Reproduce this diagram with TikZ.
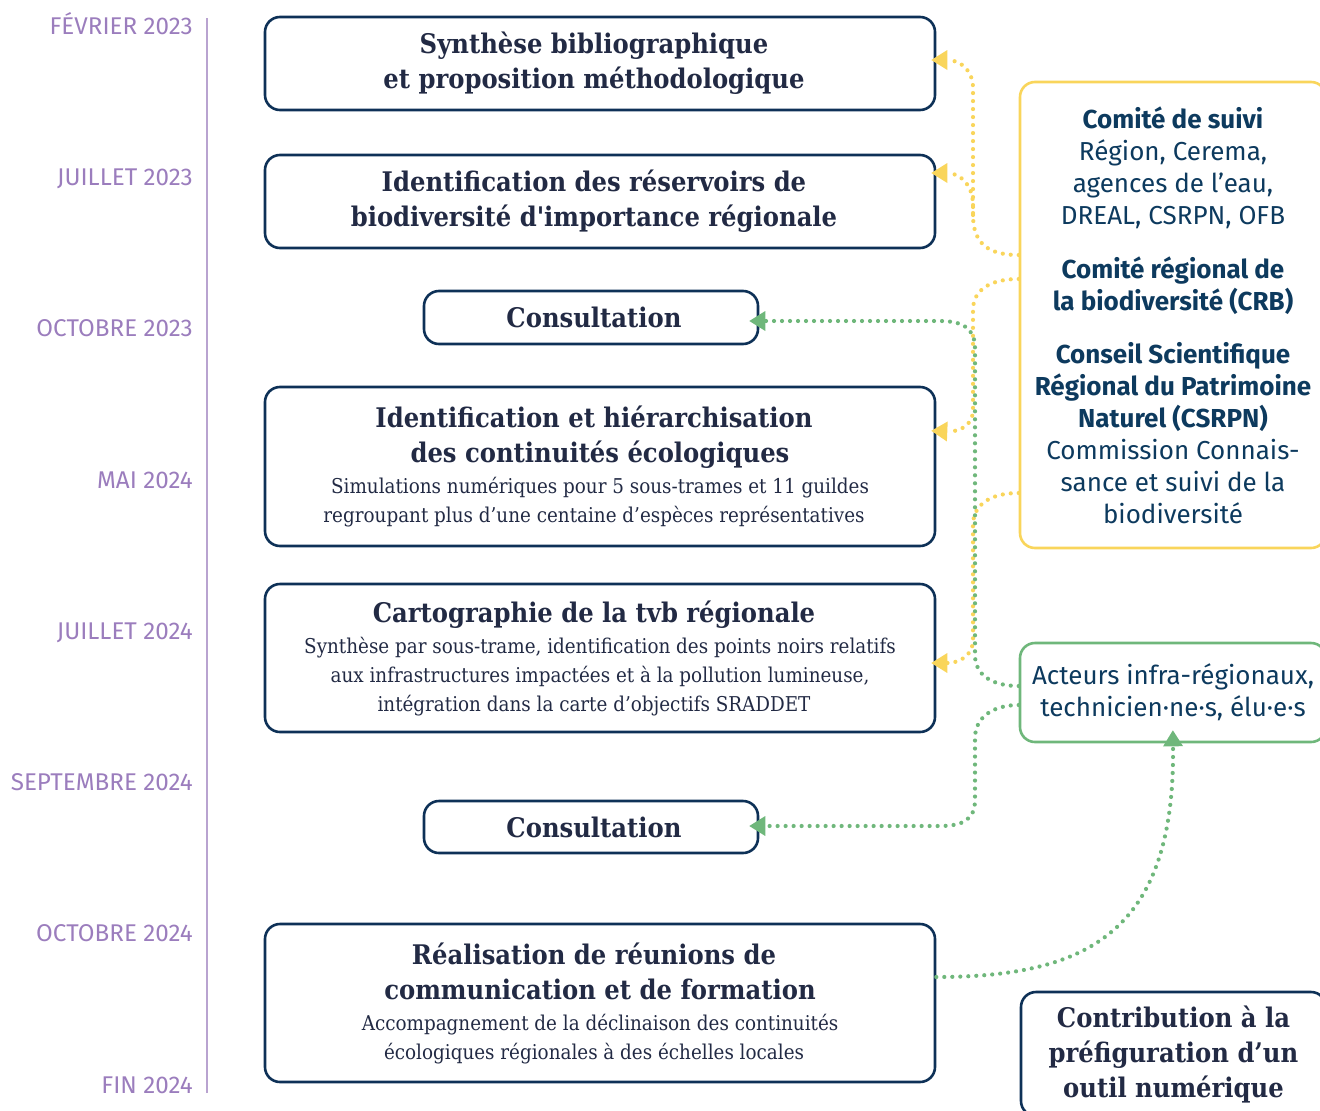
\documentclass[tikz,border=0pt]{standalone}
\usepackage{fontspec}
\setmainfont{DejaVu Serif}
\newfontfamily\slabc{DejaVu Serif Condensed}
\newfontfamily\fira{Fira Sans}
\usetikzlibrary{arrows.meta}
\definecolor{navy}{HTML}{0E3157}
\definecolor{ink}{HTML}{222A44}
\definecolor{rink}{HTML}{0D3A5E}
\definecolor{purp}{HTML}{9B7DBD}
\definecolor{purpl}{HTML}{B9A3D0}
\definecolor{yel}{HTML}{F9D55B}
\definecolor{grn}{HTML}{6FB77B}
\newcommand\ttlf{\slabc\bfseries\fontsize{27}{35}\selectfont}
\newcommand\subf{\slabc\mdseries\fontsize{20.4}{29}\selectfont}
\newcommand\rbf{\fira\bfseries\fontsize{26}{32}\selectfont}
\newcommand\rnf{\fira\mdseries\fontsize{26}{32}\selectfont}
\begin{document}
\begin{tikzpicture}[x=1pt,y=-1pt,
  stepbox/.style={draw=navy, line width=2.6pt, rounded corners=15pt, align=center, text=ink, inner sep=0pt, minimum width=670pt, font=\ttlf},
  consbox/.style={stepbox, minimum width=334pt},
  sidebox/.style={line width=2.6pt, rounded corners=15pt, align=center, text=rink, inner sep=0pt, minimum width=306pt, font=\rnf},
  datelbl/.style={anchor=base east, text=purp, font=\fira\fontsize{24.2}{28}\selectfont, inner sep=0pt},
  dotline/.style={line width=4.2pt, line cap=round, dash pattern=on 0pt off 8pt},
  ydot/.style={dotline, draw=yel},
  gdot/.style={dotline, draw=grn},
  tip/.style={-{Triangle[length=16pt,width=20pt,line width=0pt]}}
]
\useasboundingbox (0,0) rectangle (1320,1111);
% timeline
\coordinate (tl1) at (207,18);
\coordinate (tl2) at (207,1093);
\draw[purpl, line width=2pt] (tl1) -- (tl2);
\node[datelbl] (d1) at (193,34) {FÉVRIER 2023};
\node[datelbl] (d2) at (193,185) {JUILLET 2023};
\node[datelbl] (d3) at (193,336) {OCTOBRE 2023};
\node[datelbl] (d4) at (193,488) {MAI 2024};
\node[datelbl] (d5) at (193,639) {JUILLET 2024};
\node[datelbl] (d6) at (193,790) {SEPTEMBRE 2024};
\node[datelbl] (d7) at (193,941) {OCTOBRE 2024};
\node[datelbl] (d8) at (193,1093) {FIN 2024};
% step boxes
\node[stepbox, minimum height=93pt] (B1) at (600,63.5) {Synthèse bibliographique\hspace*{12pt}\\et proposition méthodologique\hspace*{12pt}};
\node[stepbox, minimum height=93pt] (B2) at (600,201.5) {Identification des réservoirs de\hspace*{12pt}\\biodiversité d'importance régionale\hspace*{12pt}};
\node[consbox, minimum height=53pt] (C1) at (591,317.5) {\hspace*{6pt}Consultation};
\node[stepbox, minimum height=159pt] (B3) at (600,466.5) {Identification et hiérarchisation\hspace*{12pt}\\des continuités écologiques\hspace*{12pt}\\[-4pt]\subf Simulations numériques pour 5 sous-trames et 11 guildes\hspace*{12pt}\\[-6pt]\subf regroupant plus d’une centaine d’espèces représentatives\hspace*{12pt}};
\node[stepbox, minimum height=148pt] (B4) at (600,658) {Cartographie de la tvb régionale\hspace*{12pt}\\[-4pt]\subf Synthèse par sous-trame, identification des points noirs relatifs\hspace*{12pt}\\[-6pt]\subf aux infrastructures impactées et à la pollution lumineuse,\hspace*{12pt}\\[-6pt]\subf intégration dans la carte d’objectifs SRADDET\hspace*{12pt}};
\node[consbox, minimum height=52pt] (C2) at (591,827) {\hspace*{6pt}Consultation};
\node[stepbox, minimum height=158pt] (B5) at (600,1003) {Réalisation de réunions de\hspace*{12pt}\\communication et de formation\hspace*{12pt}\\[-4pt]\subf Accompagnement de la déclinaison des continuités\hspace*{12pt}\\[-6pt]\subf écologiques régionales à des échelles locales\hspace*{12pt}};
\node[stepbox, minimum width=305pt, minimum height=124pt] (B6) at (1173.5,1054) {Contribution à la\\préfiguration d’un\\outil numérique};
% side boxes
\node[sidebox, draw=yel, minimum height=466pt] (Y) at (1173,315) {\rbf Comité de suivi\\\rnf Région, Cerema,\\\rnf agences de l’eau,\\\rnf DREAL, CSRPN, OFB\\[22pt]\rbf Comité régional de\\\rbf la biodiversité (CRB)\\[21pt]\rbf Conseil Scientifique\\\rbf Régional du Patrimoine\\\rbf Naturel (CSRPN)\\\rnf Commission Connais-\\\rnf sance et suivi de la\\\rnf biodiversité};
\node[sidebox, draw=grn, minimum height=99pt] (G) at (1173,692.5) {Acteurs infra-régionaux,\\technicien·ne·s, élu·e·s};
% yellow connectors
\coordinate (yv1) at (973,215);
\draw[ydot, tip, shorten >=-5pt] (Y.west |- 0,255) .. controls (990,255) and (973,245) .. (yv1) -- (973,88) .. controls (973,70) and (960,60) .. (B1.east |- 0,60);
\draw[ydot, tip, shorten >=-5pt] (yv1) -- (973,205) .. controls (973,185) and (960,173) .. (B2.east |- 0,173);
\draw[ydot, tip, shorten >=-5pt] (Y.west |- 0,279) .. controls (990,279) and (973,290) .. (973,310) -- (973,410) .. controls (973,425) and (960,432) .. (B3.east |- 0,431);
\draw[ydot, tip, shorten >=-5pt] (Y.west |- 0,493) .. controls (990,493) and (973,505) .. (973,525) -- (973,640) .. controls (973,655) and (960,663) .. (B4.east |- 0,663);
% green connectors
\draw[gdot, tip, shorten >=-10pt] (G.west |- 0,686) .. controls (992,686) and (975,675) .. (975,655) -- (975,348) .. controls (975,328) and (962,321) .. (940,321) -- (C1.east |- 0,321);
\draw[gdot, tip, shorten >=-10pt] (G.west |- 0,705) .. controls (992,705) and (975,718) .. (975,738) -- (975,800) .. controls (975,820) and (962,826) .. (940,826) -- (C2.east |- 0,826);
\draw[gdot, tip, shorten >=-13pt] (B5.east |- 0,977) .. controls (1090,977) and (1175,930) .. (G.south);
\end{tikzpicture}
\end{document}
